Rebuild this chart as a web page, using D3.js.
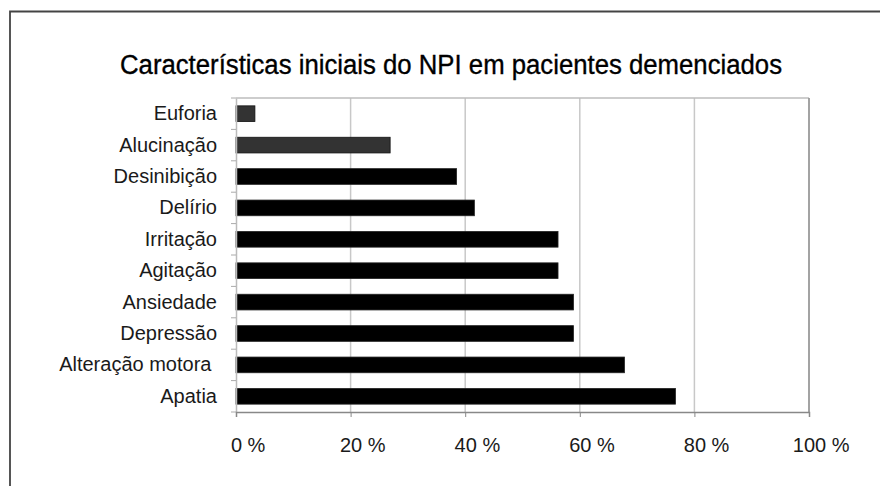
<!DOCTYPE html>
<html>
<head>
<meta charset="utf-8">
<script src="https://cdn.jsdelivr.net/npm/d3@7"></script>
<style>
  html, body { margin: 0; padding: 0; background: #fff; }
  svg { display: block; font-family: "Liberation Sans", Arial, sans-serif; }
</style>
</head>
<body>
<svg id="chart" width="880" height="486"></svg>
<script>
(function () {
    // data, top to bottom as in the picture
    const categories = ["Euforia", "Alucinação", "Desinibição", "Delírio", "Irritação",
        "Agitação", "Ansiedade", "Depressão", "Alteração motora ", "Apatia"];
    const values = [3.3, 26.9, 38.5, 41.6, 56.2, 56.2, 58.9, 58.9, 67.8, 76.7];
    const xTicks = [0, 20, 40, 60, 80, 100];
    const title = "Características iniciais do NPI em pacientes demenciados";

    const svg = d3.select("#chart");
    const margin = { top: 98, right: 71, bottom: 74, left: 236 };
    const W = 880, H = 486;
    const width = W - margin.left - margin.right;
    const height = H - margin.top - margin.bottom;

    // outer frame (only top and left edges show in the picture)
    svg.append("path")
        .attr("d", `M10,${H} L10,11.5 L${W},11.5`)
        .attr("fill", "none")
        .attr("stroke", "#444")
        .attr("stroke-width", 1.8);

    // title is a narrow face in the original, so squeeze it to its width
    svg.append("text")
        .attr("x", 451)
        .attr("y", 74)
        .attr("text-anchor", "middle")
        .attr("textLength", 662)
        .attr("lengthAdjust", "spacingAndGlyphs")
        .style("font-size", "27px")
        .style("fill", "#000")
        .style("stroke", "#000")
        .style("stroke-width", 0.35)
        .text(title);

    const g = svg.append("g").attr("transform", `translate(${margin.left},${margin.top})`);

    const x = d3.scaleLinear().domain([0, 100]).range([0, width]);
    const y = d3.scaleBand().domain(categories).range([0, height])
        .paddingInner(0.5).paddingOuter(0.25);

    // grid lines
    g.append("g").selectAll("line")
        .data(xTicks.slice(1, -1))
        .join("line")
        .attr("x1", d => x(d)).attr("x2", d => x(d))
        .attr("y1", 0).attr("y2", height)
        .attr("stroke", "#c8c8c8")
        .attr("stroke-width", 1.5);

    // plot frame: top and right
    g.append("path")
        .attr("d", `M0,0 L${width},0`)
        .attr("stroke", "#bdbdbd").attr("stroke-width", 1.5);
    g.append("path")
        .attr("d", `M${width},0 L${width},${height}`)
        .attr("stroke", "#999").attr("stroke-width", 1.8);

    // bars
    g.append("g").selectAll("rect")
        .data(categories.map((c, i) => ({ c, v: values[i], i })))
        .join("rect")
        .attr("x", 0)
        .attr("y", d => y(d.c))
        .attr("width", d => x(d.v))
        .attr("height", y.bandwidth())
        .attr("fill", d => d.i < 2 ? "#333" : "#000")
        .attr("stroke", d => d.i < 2 ? "#111" : "#222")
        .attr("stroke-width", 0.8);

    // y axis: labels through the axis, ticks at the band borders
    const yAxis = g.append("g")
        .call(d3.axisLeft(y).tickSize(0).tickPadding(19));
    yAxis.select(".domain").attr("stroke", "#bbb").attr("stroke-width", 1.5);
    yAxis.selectAll("text")
        .attr("font-family", null)
        .style("font-size", "20px")
        .style("fill", "#1a1a1a")
        .style("white-space", "pre");

    const borders = d3.range(categories.length + 1).map(i => i * y.step());
    g.append("g").selectAll("line")
        .data(borders)
        .join("line")
        .attr("x1", -5).attr("x2", 0)
        .attr("y1", d => d).attr("y2", d => d)
        .attr("stroke", "#aaa");

    // x axis
    const xAxis = g.append("g")
        .attr("transform", `translate(0,${height})`)
        .call(d3.axisBottom(x).tickValues(xTicks).tickSize(5).tickFormat(d => d));
    xAxis.select(".domain").attr("stroke", "#888").attr("stroke-width", 1.5);
    xAxis.selectAll(".tick line").attr("stroke", "#888");
    xAxis.selectAll("text")
        .attr("font-family", null)
        .style("font-size", "20px")
        .style("fill", "#1a1a1a")
        .attr("y", 40)
        .attr("dy", null)
        .each(function () {
            // number centred on the tick, "%" trailing after it
            const t = d3.select(this);
            const w = this.getComputedTextLength();
            t.attr("text-anchor", "start").attr("x", -w / 2);
            t.append("tspan").style("white-space", "pre").text(" %");
        });
})();
</script>
</body>
</html>
